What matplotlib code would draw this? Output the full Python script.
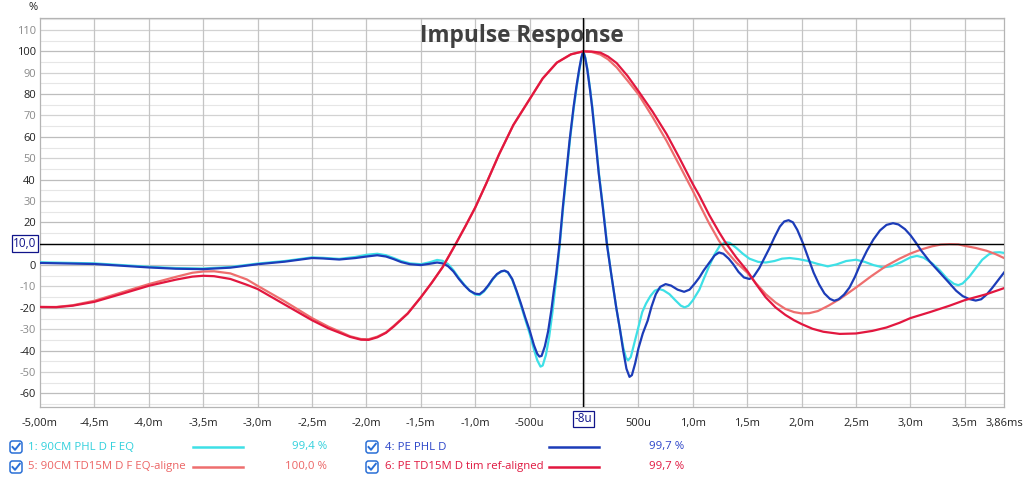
import matplotlib
matplotlib.use("Agg")
import matplotlib.pyplot as plt
from matplotlib.patches import FancyBboxPatch
from matplotlib.lines import Line2D
from matplotlib.transforms import IdentityTransform

plt.rcParams['font.family'] = ['Open Sans', 'DejaVu Sans']

# ---------------- data (time in ms, value in %) ----------------
blue_t = [-5.0, -4.5, -4.0, -3.75, -3.5, -3.25, -3.0, -2.75, -2.5, -2.4, -2.25, -2.1, -2.0,
          -1.9, -1.82, -1.75, -1.68, -1.6, -1.5, -1.42, -1.35, -1.3, -1.25, -1.2, -1.15, -1.1,
          -1.05, -1.0, -0.96, -0.92, -0.88, -0.84, -0.8, -0.76, -0.73, -0.70, -0.66, -0.62,
          -0.58, -0.54, -0.5, -0.46, -0.43, -0.41, -0.39, -0.36, -0.33, -0.30, -0.28, -0.256,
          -0.225, -0.195, -0.164, -0.133, -0.097, -0.07, -0.045, -0.025, -0.008, 0.01, 0.03,
          0.055, 0.075, 0.106, 0.136, 0.173, 0.21, 0.25, 0.296, 0.33, 0.36, 0.39, 0.418, 0.44,
          0.47, 0.5, 0.54, 0.585, 0.62, 0.66, 0.70, 0.75, 0.80, 0.86, 0.92, 0.97, 1.02, 1.06,
          1.1, 1.15, 1.2, 1.24, 1.28, 1.33, 1.37, 1.42, 1.47, 1.52, 1.56, 1.61, 1.66, 1.70,
          1.75, 1.80, 1.84, 1.88, 1.92, 1.96, 2.01, 2.06, 2.11, 2.16, 2.21, 2.26, 2.30, 2.34,
          2.39, 2.44, 2.49, 2.54, 2.60, 2.66, 2.72, 2.78, 2.84, 2.89, 2.95, 3.0, 3.05, 3.10,
          3.18, 3.27, 3.35, 3.42, 3.48, 3.54, 3.60, 3.65, 3.70, 3.75, 3.80, 3.86]
blue_v = [1.0, 0.5, -1.1, -1.7, -1.9, -1.2, 0.4, 1.6, 3.3, 3.1, 2.6, 3.3, 4.0,
          4.6, 4.0, 2.8, 1.4, 0.4, 0.0, 0.6, 1.2, 0.8, -0.5, -3.0, -6.5, -9.5,
          -12.0, -13.4, -13.6, -12.0, -9.5, -6.5, -4.2, -2.9, -2.6, -3.3, -6.5, -12.0,
          -18.0, -24.5, -30.5, -37.5, -41.5, -42.8, -42.5, -38.0, -31.0, -21.0, -13.0, -4.2,
          9.8, 26.9, 42.5, 58.1, 73.6, 83.5, 91.5, 97.0, 100.0, 97.0, 91.5,
          82.0, 73.6, 58.1, 42.5, 26.9, 9.8, -4.2, -19.8, -30.0, -40.0, -48.5, -52.3, -51.5,
          -46.0, -39.0, -32.0, -26.0, -19.5, -13.6, -10.2, -8.9, -9.6, -11.5, -12.5, -11.5, -8.5, -5.8,
          -2.5, 1.0, 4.5, 5.9, 5.3, 3.0, 0.5, -3.2, -5.8, -6.5, -5.3, -1.5, 3.5, 7.5,
          13.0, 18.0, 20.4, 21.0, 20.0, 16.5, 10.5, 3.5, -3.5, -9.0, -13.3, -15.8, -16.7, -16.0,
          -13.8, -10.5, -5.5, 0.5, 6.7, 12.0, 16.2, 18.8, 19.6, 19.0, 16.8, 14.0, 10.5, 6.7,
          1.5, -3.5, -8.0, -12.0, -14.5, -15.9, -16.6, -16.0, -13.8, -10.8, -7.5, -3.5]

cyan_t = [-5.0, -4.5, -4.0, -3.75, -3.5, -3.25, -3.0, -2.75, -2.5, -2.4, -2.25, -2.1, -2.0,
          -1.9, -1.82, -1.75, -1.68, -1.6, -1.5, -1.42, -1.35, -1.3, -1.25, -1.2, -1.15, -1.1,
          -1.05, -1.0, -0.96, -0.92, -0.88, -0.84, -0.8, -0.76, -0.73, -0.70, -0.66, -0.62,
          -0.58, -0.54, -0.5, -0.46, -0.43, -0.40, -0.38, -0.35, -0.32, -0.29, -0.27, -0.25,
          -0.222, -0.192, -0.161, -0.130, -0.094, -0.067, -0.042, -0.022, -0.006, 0.012, 0.032,
          0.057, 0.077, 0.108, 0.138, 0.175, 0.212, 0.25, 0.296, 0.33, 0.36, 0.385, 0.405, 0.43,
          0.46, 0.5, 0.535, 0.57, 0.61, 0.65, 0.69, 0.73, 0.785, 0.84, 0.89, 0.925, 0.96, 1.0,
          1.06, 1.1, 1.15, 1.2, 1.25, 1.30, 1.34, 1.40, 1.46, 1.52, 1.6, 1.67, 1.75, 1.82,
          1.89, 1.97, 2.05, 2.15, 2.24, 2.32, 2.41, 2.5, 2.58, 2.66, 2.75, 2.83, 2.92, 3.0,
          3.06, 3.12, 3.2, 3.27, 3.34, 3.40, 3.44, 3.48, 3.54, 3.60, 3.66, 3.72, 3.77, 3.82, 3.86]
cyan_v = [1.3, 0.8, -0.8, -1.4, -1.6, -0.9, 0.7, 1.9, 3.6, 3.4, 2.9, 3.8, 4.8,
          5.3, 4.6, 3.3, 1.9, 0.8, 0.4, 1.3, 2.4, 2.0, 0.5, -2.4, -6.0, -9.2,
          -12.0, -13.8, -14.0, -12.4, -9.8, -6.8, -4.4, -3.0, -2.7, -3.5, -6.8, -12.5,
          -18.8, -25.5, -32.0, -39.5, -44.5, -47.5, -47.0, -42.0, -33.5, -22.0, -13.0, -4.2,
          9.8, 26.9, 42.5, 58.1, 73.6, 83.5, 91.5, 97.0, 100.0, 97.0, 91.5,
          82.0, 73.6, 58.1, 42.5, 26.9, 9.8, -4.2, -19.8, -30.0, -38.5, -43.3, -44.6, -43.0,
          -37.0, -29.0, -22.0, -18.0, -14.5, -12.0, -11.2, -11.8, -13.6, -16.5, -19.0, -19.8, -19.0, -16.5,
          -11.5, -6.5, -0.5, 5.0, 9.2, 10.7, 10.4, 8.0, 5.3, 3.0, 1.5, 1.2, 1.9, 3.0,
          3.3, 2.8, 2.0, 0.5, -0.6, 0.3, 1.9, 2.5, 1.5, 0.0, -1.1, -0.5, 1.5, 3.6,
          4.3, 3.5, 0.8, -2.5, -6.5, -8.8, -9.4, -8.6, -5.5, -1.5, 2.5, 5.0, 5.9, 6.0, 5.7]

salmon_t = [-5.0, -4.85, -4.7, -4.5, -4.25, -4.0, -3.75, -3.6, -3.5, -3.4, -3.25, -3.1, -3.0,
            -2.75, -2.5, -2.35, -2.25, -2.15, -2.05, -1.98, -1.9, -1.82, -1.75, -1.62, -1.5,
            -1.4, -1.3, -1.18, -1.09, -1.0, -0.9, -0.78, -0.65, -0.5, -0.38, -0.25, -0.12,
            -0.008, 0.07, 0.15, 0.22, 0.30, 0.4, 0.5, 0.63, 0.76, 0.88, 1.0, 1.06, 1.15, 1.24,
            1.30, 1.4, 1.5, 1.58, 1.67, 1.76, 1.85, 1.93, 2.0, 2.07, 2.15, 2.25, 2.35, 2.5,
            2.64, 2.78, 2.9, 3.0, 3.1, 3.2, 3.28, 3.36, 3.44, 3.5, 3.6, 3.70, 3.78, 3.86]
salmon_v = [-19.6, -19.6, -18.8, -16.7, -12.8, -8.9, -5.5, -3.6, -3.0, -2.9, -3.9, -6.7, -9.7,
            -17.0, -24.8, -28.8, -31.0, -33.3, -34.6, -34.7, -33.5, -31.5, -28.5, -22.5, -15.1,
            -8.3, -1.0, 9.8, 18.2, 26.9, 38.0, 51.9, 65.5, 77.6, 87.3, 94.7, 98.6,
            100.0, 99.7, 98.5, 96.3, 92.5, 86.3, 79.9, 69.3, 58.0, 46.4, 34.7, 28.5, 19.5, 11.4,
            7.0, 1.2, -3.5, -8.5, -13.6, -17.5, -20.5, -22.0, -22.6, -22.5, -21.5, -18.9, -15.9, -10.5,
            -5.2, -0.3, 3.0, 5.4, 7.3, 8.8, 9.6, 9.8, 9.7, 9.0, 8.0, 6.7, 5.2, 3.3]

crimson_t = [-5.0, -4.85, -4.7, -4.5, -4.25, -4.0, -3.75, -3.6, -3.5, -3.4, -3.25, -3.1, -3.0,
             -2.75, -2.5, -2.35, -2.25, -2.15, -2.05, -1.98, -1.9, -1.82, -1.75, -1.62, -1.5,
             -1.4, -1.3, -1.18, -1.09, -1.0, -0.9, -0.78, -0.65, -0.5, -0.38, -0.25, -0.12,
             -0.008, 0.07, 0.15, 0.22, 0.30, 0.4, 0.5, 0.63, 0.76, 0.88, 1.0, 1.06, 1.15, 1.24,
             1.30, 1.4, 1.5, 1.58, 1.67, 1.76, 1.85, 1.93, 2.0, 2.1, 2.2, 2.35, 2.5, 2.65,
             2.78, 2.9, 3.0, 3.18, 3.36, 3.5, 3.60, 3.70, 3.86]
crimson_v = [-19.6, -19.7, -19.0, -17.2, -13.5, -9.7, -6.8, -5.4, -5.0, -5.2, -6.5, -9.2, -11.2,
             -18.5, -25.8, -29.6, -31.6, -33.6, -34.9, -35.0, -33.8, -31.7, -28.8, -22.7, -15.1,
             -8.3, -1.0, 9.8, 18.2, 26.9, 38.0, 51.9, 65.5, 77.6, 87.3, 94.7, 98.6,
             100.0, 99.9, 99.4, 97.6, 94.5, 88.5, 81.4, 71.8, 61.2, 49.8, 37.9, 32.5, 23.5, 15.5,
             10.6, 3.5, -2.7, -8.8, -15.1, -19.8, -23.3, -25.8, -27.6, -29.8, -31.2, -32.2, -32.0, -30.8,
             -29.2, -27.0, -24.8, -22.0, -19.0, -16.4, -15.0, -13.6, -10.8]

legend_names = ["1: 90CM PHL D F EQ", "4: PE PHL D",
                "5: 90CM TD15M D F EQ-aligne", "6: PE TD15M D tim ref-aligned"]
legend_values = ["99,4 %", "99,7 %", "100,0 %", "99,7 %"]

x_tick_pos = [-5.0, -4.5, -4.0, -3.5, -3.0, -2.5, -2.0, -1.5, -1.0, -0.5, 0.5, 1.0, 1.5,
              2.0, 2.5, 3.0, 3.5, 3.86]
x_tick_lab = ["-5,00m", "-4,5m", "-4,0m", "-3,5m", "-3,0m", "-2,5m", "-2,0m", "-1,5m", "-1,0m",
              "-500u", "500u", "1,0m", "1,5m", "2,0m", "2,5m", "3,0m", "3,5m", "3,86ms"]
y_ticks = [-60, -50, -40, -30, -20, -10, 0, 20, 30, 40, 50, 60, 70, 80, 90, 100, 110]
cursor_x = -0.008
cursor_y = 10.0

# ---------------- style ----------------
C_CYAN = "#3ee0e6"
C_BLUE = "#1c3cb8"
C_SALMON = "#ee6e6e"
C_CRIMSON = "#e2173f"
T_CYAN = "#30d0dc"
T_BLUE = "#2a44c8"
T_SALMON = "#ec6464"
T_CRIMSON = "#e01840"

W, H = 1024, 480
fig = plt.figure(figsize=(W / 100, H / 100), dpi=100)
fig.patch.set_facecolor("white")
L, R, T, B = 40, 1004, 18, 407
ax = fig.add_axes([L / W, 1 - B / H, (R - L) / W, (B - T) / H])
ax.set_xlim(-5.0, 3.86)
ax.set_ylim(-66.4, 115.6)

# grid
for v in range(-65, 116, 5):
    if v % 10 != 0:
        ax.axhline(v, color="#e6e6e6", lw=0.8, zorder=0)
    elif v % 20 == 0:
        ax.axhline(v, color="#bdbdbd", lw=0.9, zorder=0)
    else:
        ax.axhline(v, color="#d2d2d2", lw=0.9, zorder=0)
for k in range(-9, 8):
    ax.axvline(k * 0.5, color="#c4c4c4", lw=0.9, zorder=0)

for s in ax.spines.values():
    s.set_color("#b4b4b4")
    s.set_linewidth(0.9)

# curves
lw = 1.6
ax.plot(cyan_t, cyan_v, color=C_CYAN, lw=lw, zorder=3, solid_joinstyle="round")
ax.plot(salmon_t, salmon_v, color=C_SALMON, lw=lw, zorder=3, solid_joinstyle="round")
ax.plot(blue_t, blue_v, color=C_BLUE, lw=lw, zorder=4, solid_joinstyle="round")
ax.plot(crimson_t, crimson_v, color=C_CRIMSON, lw=lw, zorder=4, solid_joinstyle="round")

# cursors
ax.axvline(cursor_x, color="black", lw=1.0, zorder=5)
ax.axhline(cursor_y, color="black", lw=1.0, zorder=5)

# ticks
ax.set_xticks(x_tick_pos)
ax.set_xticklabels(x_tick_lab)
ax.set_yticks(y_ticks)
ax.set_yticklabels([str(v) for v in y_ticks])
ax.tick_params(axis="both", length=0, labelsize=8, colors="#222222")
ax.tick_params(axis="x", pad=8)
ax.tick_params(axis="y", pad=3)
for lab, v in zip(ax.get_yticklabels(), y_ticks):
    lab.set_color("#222222" if v % 20 == 0 else "#8a8a8a")

# title and unit
ax.text(0.5, 0.955, "Impulse Response", transform=ax.transAxes, ha="center", va="center",
        fontsize=16.3, fontweight="bold", color="#404040", zorder=6)
fig.text(33 / W, 1 - 8 / H, "%", ha="center", va="center", fontsize=8, color="#222222")

# cursor value boxes
ax.annotate("10,0", xy=(0, cursor_y), xycoords=("axes fraction", "data"),
            xytext=(-15, 0), textcoords="offset pixels", ha="center", va="center",
            fontsize=8.5, color="#10148a",
            bbox=dict(boxstyle="square,pad=0.15", fc="white", ec="#10148a", lw=0.9))
ax.annotate("-8u", xy=(cursor_x, 0), xycoords=("data", "axes fraction"),
            xytext=(0, -12), textcoords="offset pixels", ha="center", va="center",
            fontsize=8.5, color="#10148a",
            bbox=dict(boxstyle="square,pad=0.15", fc="white", ec="#10148a", lw=0.9))

# legend (pixel coordinates)
idt = IdentityTransform()

def checkbox(px, py):
    box = FancyBboxPatch((px - 6, H - py - 6), 12, 12,
                         boxstyle="round,pad=0,rounding_size=2.5",
                         fc="white", ec="#2a6fd6", lw=1.1, transform=idt)
    fig.patches.append(box)
    fig.lines.append(Line2D([px - 3.5, px - 1, px + 3.8], [H - py, H - py - 2.8, H - py + 3.2],
                            color="#2a6fd6", lw=1.4, transform=idt))

rows = [447, 467]
entries = [
    (16, 28, 193, 243, 327, rows[0], legend_names[0], legend_values[0], C_CYAN, T_CYAN),
    (372, 385, 549, 599, 684, rows[0], legend_names[1], legend_values[1], C_BLUE, T_BLUE),
    (16, 28, 193, 243, 327, rows[1], legend_names[2], legend_values[2], C_SALMON, T_SALMON),
    (372, 385, 549, 599, 684, rows[1], legend_names[3], legend_values[3], C_CRIMSON, T_CRIMSON),
]
for cbx, tx, l0, l1, vx, py, name, val, lc, tc in entries:
    checkbox(cbx, py)
    fig.text(tx / W, 1 - py / H, name, ha="left", va="center", fontsize=8.2, color=tc)
    fig.lines.append(Line2D([l0, l1], [H - py, H - py], color=lc, lw=1.8, transform=idt))
    fig.text(vx / W, 1 - py / H, val, ha="right", va="center", fontsize=8.2, color=tc)

fig.savefig("out.png", dpi=100)
